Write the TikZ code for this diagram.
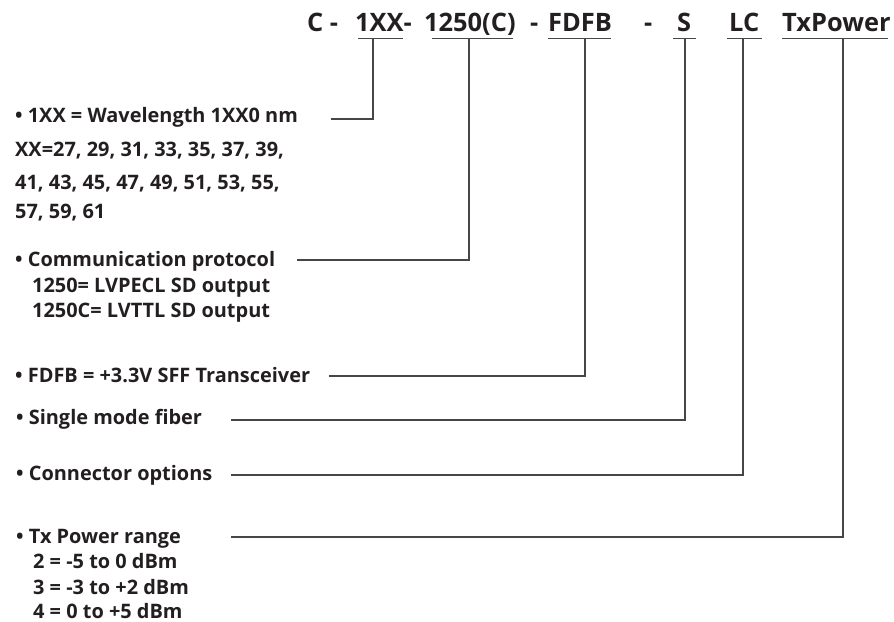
\documentclass[tikz,border=0pt]{standalone}
\usepackage{fontspec}
\setmainfont{Open Sans}
\usetikzlibrary{calc}
\definecolor{ink}{RGB}{35,31,32}
\definecolor{rule}{RGB}{70,70,70}

\begin{document}
\begin{tikzpicture}[x=1bp,y=-1bp,
    head/.style={anchor=base west,inner sep=0pt,text=ink,font=\fontsize{25.5}{30}\selectfont\bfseries},
    txt/.style={anchor=base west,inner sep=0pt,text=ink,font=\fontsize{20}{24}\selectfont\bfseries},
    lead/.style={draw=rule,line width=1.4bp}]
    \useasboundingbox (0,0) rectangle (894,622);
    % part number
    \node[head] (pc) at (307,32) {C -};
    \node[head] (pxx) at (355,32) {1XX-};
    \node[head] (prot) at (424,32) {1250(C)};
    \node[head] (d1) at (530,32) {-};
    \node[head] (pfd) at (548,32) {FDFB};
    \node[head] (d2) at (644,32) {-};
    \node[head] (ps) at (677,32) {S};
    \node[head] (plc) at (729,32) {LC};
    \node[head] (ptx) at (782,32) {TxPower};
    \foreach \a/\b in {358/403,432/513,548/611,673/696,727/762,782/888}
        \draw[lead] (\a,38.5) -- (\b,38.5);
    % descriptions
    \node[txt] (wl) at (15,123) {• 1XX = Wavelength 1XX0 nm};
    \node[txt] (wl2) at (15,157) {XX=27, 29, 31, 33, 35, 37, 39,};
    \node[txt] (wl3) at (15,190) {41, 43, 45, 47, 49, 51, 53, 55,};
    \node[txt] (wl4) at (15,219) {57, 59, 61};
    \node[txt] (cp) at (15,267) {• Communication protocol};
    \node[txt] (cp2) at (32,292) {1250= LVPECL SD output};
    \node[txt] (cp3) at (32,317) {1250C= LVTTL SD output};
    \node[txt] (ff) at (15,382) {• FDFB = +3.3V SFF Transceiver};
    \node[txt] (sm) at (16,424) {• Single mode fiber};
    \node[txt] (co) at (16,480) {• Connector options};
    \node[txt] (tx) at (16,543) {• Tx Power range};
    \node[txt] (tx2) at (33,568) {2 = -5 to 0 dBm};
    \node[txt] (tx3) at (33,594) {3 = -3 to +2 dBm};
    \node[txt] (tx4) at (33,618) {4 = 0 to +5 dBm};
    % leader ends
    \coordinate (t-xx) at (373,38.5);
    \coordinate (t-rt) at (469,38.5);
    \coordinate (t-fd) at (585,38.5);
    \coordinate (t-s) at (685,38.5);
    \coordinate (t-lc) at (743,38.5);
    \coordinate (t-tx) at (843,38.5);
    \coordinate (e-xx) at (331,119);
    \coordinate (e-rt) at (297,260);
    \coordinate (e-fd) at (329,376);
    \coordinate (e-s) at (231,420);
    \coordinate (e-lc) at (231,475);
    \coordinate (e-tx) at (231,537);
    \draw[lead] (t-xx) |- (e-xx);
    \draw[lead] (t-rt) |- (e-rt);
    \draw[lead] (t-fd) |- (e-fd);
    \draw[lead] (t-s) |- (e-s);
    \draw[lead] (t-lc) |- (e-lc);
    \draw[lead] (t-tx) |- (e-tx);
\end{tikzpicture}
\end{document}
